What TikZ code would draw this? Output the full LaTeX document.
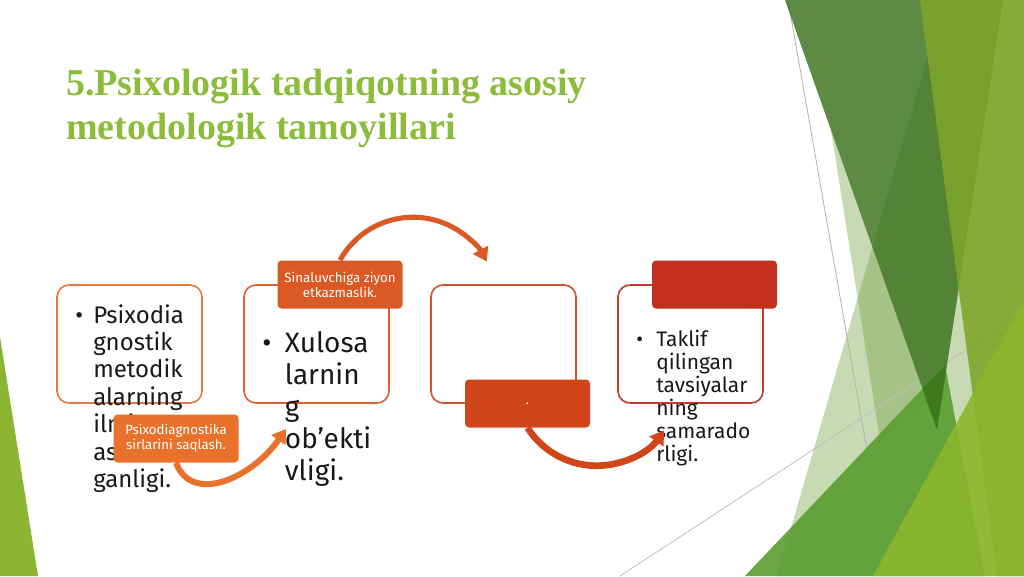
\documentclass[tikz,border=0pt]{standalone}
\usepackage{fontspec}
\setmainfont{Fira Sans}
\newfontfamily\titlefont{Liberation Serif}
\usepackage{tikz}
\usetikzlibrary{arrows.meta,backgrounds}
\definecolor{titlegreen}{RGB}{139,189,58}
\definecolor{leafgreen}{RGB}{140,181,52}
\definecolor{palegreen}{RGB}{113,160,60}
\definecolor{midgreen}{RGB}{90,158,48}
\definecolor{darkgreen}{RGB}{54,111,22}
\definecolor{olivegreen}{RGB}{124,166,41}
\definecolor{limegreen}{RGB}{138,184,44}
\definecolor{boxone}{RGB}{228,122,66}
\definecolor{boxtwo}{RGB}{218,98,51}
\definecolor{boxthree}{RGB}{209,80,45}
\definecolor{boxfour}{RGB}{198,57,44}
\definecolor{tagone}{RGB}{232,113,43}
\definecolor{tagtwo}{RGB}{218,89,36}
\definecolor{tagthree}{RGB}{208,70,26}
\definecolor{tagfour}{RGB}{196,48,30}
\newcommand{\px}{0.75pt}
\newcommand{\boxw}{145*\px}
\newcommand{\boxh}{118*\px}
\newcommand{\tagw}{125*\px}
\newcommand{\tagh}{48*\px}

\begin{document}
\begin{tikzpicture}[x=0.75pt, y=-0.75pt,
  blockbox/.style={draw, rounded corners=9pt, line width=1.2pt, minimum width=\boxw, minimum height=\boxh, inner sep=0pt},
  tag/.style={rounded corners=3pt, minimum width=\tagw, minimum height=\tagh, inner sep=0pt, text=white, align=center, font=\fontsize{10}{11.25}\selectfont},
  bullets/.style={anchor=base west, inner sep=0pt, text=black!90},
  bendarrow/.style={-{Triangle[length=10pt,width=12.5pt]}},
  facet/.style={fill opacity=#1, draw=none}]
\useasboundingbox (0,0) rectangle (1024,576);
%background
\begin{scope}[on background layer]
\fill[white] (0,0) rectangle (1024,576);
\fill[leafgreen] (0,337) -- (38,576) -- (0,576) -- cycle;
\fill[palegreen, facet=0.38] (777,576) -- (944,0) -- (1024,0) -- (1024,576) -- cycle;
\fill[palegreen, facet=0.38] (831,130) -- (880,440) -- (926,400) -- cycle;
\draw[black!30, line width=0.6pt] (788,0) -- (889,576);
\draw[black!25, line width=0.6pt] (620,576) -- (1024,312);
\fill[midgreen, facet=0.9] (745,576) -- (945,365) -- (985,576) -- cycle;
\fill[darkgreen, facet=0.8] (785,0) -- (1003,0) -- (937,430) -- cycle;
\fill[olivegreen, facet=0.88] (920,0) -- (1024,0) -- (1024,576) -- (997,576) -- cycle;
\fill[limegreen, facet=0.9] (873,576) -- (1024,300) -- (1024,576) -- cycle;
\end{scope}
%title
\node[anchor=base west, inner sep=0pt, text=titlegreen, font=\titlefont\bfseries\fontsize{28.5}{33}\selectfont] (title) at (66,95)
  {\begin{tabular}[t]{@{}l@{}}5.Psixologik tadqiqotning asosiy\\metodologik tamoyillari\end{tabular}};
%boxes
\node[blockbox] (b1) at (129.5,344) [draw=boxone] {};
\node[blockbox] (b2) at (316.5,344) [draw=boxtwo] {};
\node[blockbox] (b3) at (503.5,344) [draw=boxthree] {};
\node[blockbox] (b4) at (690.5,344) [draw=boxfour] {};
%box texts
\node[bullets, font=\fontsize{18}{20.6}\selectfont] (t1) at (75,323)
  {\begin{tabular}[t]{@{}p{13.5pt}@{}l@{}}\textbullet & Psixodia\\ & gnostik\\ & metodik\\ & alarning\\ & ilmiy\\ & asoslan\\ & ganligi.\end{tabular}};
\node[bullets, font=\fontsize{21}{24}\selectfont] (t2) at (262,352)
  {\begin{tabular}[t]{@{}p{17pt}@{}l@{}}\textbullet & Xulosa\\ & larnin\\ & g\\ & ob'ekti\\ & vligi.\end{tabular}};
\node[bullets, font=\fontsize{15.75}{17}\selectfont] (t4) at (636,346)
  {\begin{tabular}[t]{@{}p{15pt}@{}l@{}}\textbullet & Taklif\\ & qilingan\\ & tavsiyalar\\ & ning\\ & samarado\\ & rligi.\end{tabular}};
%tags
\node[tag] (lab1) at (176,438.5) [fill=tagone] {Psixodiagnostika\\sirlarini saqlash.};
\node[tag] (lab2) at (340,284.5) [fill=tagtwo] {Sinaluvchiga ziyon\\etkazmaslik.};
\node[tag] (lab3) at (527.5,403.5) [fill=tagthree] {.};
\node[tag] (lab4) at (714.5,284.5) [fill=tagfour] {};
%arrows
\coordinate (tipone) at (286,429);
\draw[bendarrow, tagone, line width=4.5pt] (lab1.south) .. controls (192,505) and (252,478) .. (tipone);
\draw[bendarrow, tagtwo, line width=3.8pt] (lab2.north) arc[start angle=-151, end angle=-28, radius=83.5];
\draw[bendarrow, tagthree, line width=5pt] (lab3.south) arc[start angle=147.5, end angle=34.8, radius=82];
\end{tikzpicture}
\end{document}
